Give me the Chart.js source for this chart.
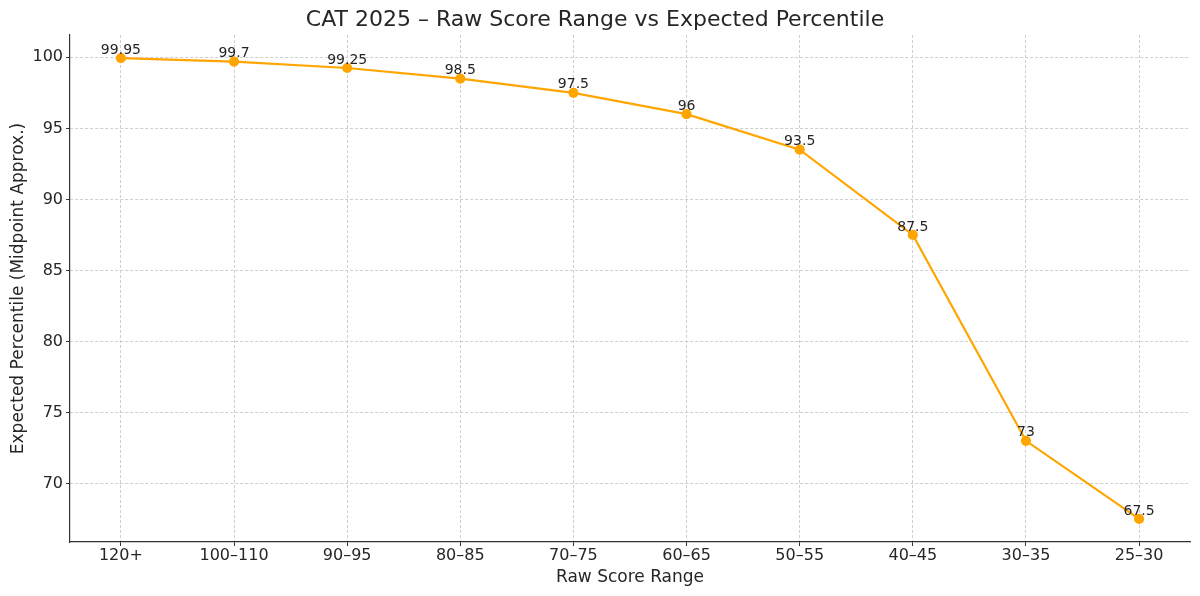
<!DOCTYPE html>
<html>
<head>
<meta charset="utf-8">
<script src="https://cdn.jsdelivr.net/npm/chart.js@4"></script>
<style>
  html, body { margin: 0; padding: 0; background: #fff; }
  #wrap { width: 1200px; height: 596px; }
</style>
</head>
<body>
<div id="wrap"><canvas id="scoreChart" width="1200" height="596"></canvas></div>
<script>
const scoreRanges = ["120+", "100–110", "90–95", "80–85", "70–75", "60–65", "50–55", "40–45", "30–35", "25–30"];
const percentiles = [99.95, 99.7, 99.25, 98.5, 97.5, 96, 93.5, 87.5, 73, 67.5];
const yTicks = [70, 75, 80, 85, 90, 95, 100];

const font = "'DejaVu Sans', sans-serif";
const textColor = "#262626";

// matplotlib-style 5% margins around the data
const yPad = (Math.max(...percentiles) - Math.min(...percentiles)) * 0.05;
const xPad = (scoreRanges.length - 1) * 0.05;

const valueLabels = {
  id: "valueLabels",
  afterDatasetsDraw(chart) {
    const ctx = chart.ctx;
    const meta = chart.getDatasetMeta(0);
    ctx.save();
    ctx.font = "14px " + font;
    ctx.fillStyle = textColor;
    ctx.textAlign = "center";
    ctx.textBaseline = "bottom";
    meta.data.forEach((pt, i) => {
      ctx.fillText(String(percentiles[i]), pt.x, pt.y - 1);
    });
    ctx.restore();
  },
};

const ctx = document.getElementById("scoreChart").getContext("2d");
new Chart(ctx, {
  type: "line",
  data: {
    datasets: [
      {
        label: "Expected Percentile",
        data: percentiles.map((v, i) => ({ x: i, y: v })),
        borderColor: "#FFA500",
        backgroundColor: "#FFA500",
        borderWidth: 2.2,
        pointRadius: 4,
        pointHoverRadius: 4,
        tension: 0,
      },
    ],
  },
  options: {
    responsive: false,
    animation: false,
    layout: { padding: { left: 0, right: 10, top: 0, bottom: 0 } },
    plugins: {
      legend: { display: false },
      tooltip: { enabled: false },
      title: {
        display: true,
        text: "CAT 2025 – Raw Score Range vs Expected Percentile",
        color: textColor,
        font: { family: font, size: 22, weight: "normal", lineHeight: 1.2 },
        padding: { top: 7, bottom: 1.6 },
      },
    },
    scales: {
      x: {
        type: "linear",
        min: -xPad,
        max: scoreRanges.length - 1 + xPad,
        afterBuildTicks: (scale) => {
          scale.ticks = scoreRanges.map((_, i) => ({ value: i }));
        },
        afterFit: (scale) => { scale.height = 54; },
        ticks: {
          color: textColor,
          font: { family: font, size: 16 },
          padding: 0,
          maxRotation: 0,
          autoSkip: false,
          callback: (v) => scoreRanges[v],
        },
        grid: { color: "#cfcfcf", tickColor: "#333", tickLength: 4, tickBorderDash: [] },
        border: { display: true, color: "#333", width: 1.2, dash: [3, 2] },
        title: {
          display: true,
          text: "Raw Score Range",
          color: textColor,
          font: { family: font, size: 17 },
          padding: { top: 0, bottom: 8 },
        },
      },
      y: {
        min: Math.min(...percentiles) - yPad,
        max: Math.max(...percentiles) + yPad,
        afterBuildTicks: (scale) => {
          scale.ticks = yTicks.map((v) => ({ value: v }));
        },
        afterFit: (scale) => { scale.width = 70; },
        ticks: {
          color: textColor,
          font: { family: font, size: 16 },
          padding: 3,
        },
        grid: { color: "#cfcfcf", tickColor: "#333", tickLength: 4, tickBorderDash: [] },
        border: { display: true, color: "#333", width: 1.2, dash: [3, 2] },
        title: {
          display: true,
          text: "Expected Percentile (Midpoint Approx.)",
          color: textColor,
          font: { family: font, size: 17 },
          padding: { top: 8, bottom: 0 },
        },
      },
    },
  },
  plugins: [valueLabels],
});
</script>
</body>
</html>
